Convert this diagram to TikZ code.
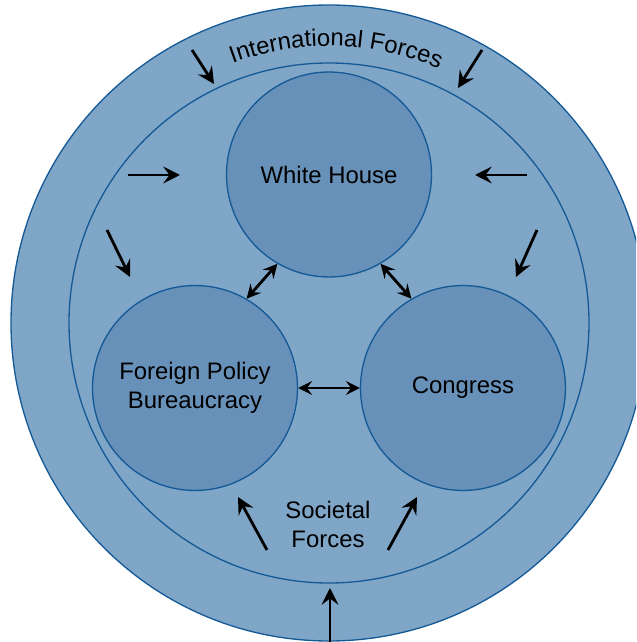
\documentclass[tikz,border=0pt]{standalone}
\usepackage{fontspec}
\setmainfont{Liberation Sans}
\usetikzlibrary{calc,arrows.meta,decorations.text,positioning}
\definecolor{ringblue}{HTML}{7FA5C7}
\definecolor{actorblue}{HTML}{6891B9}
\definecolor{edgeblue}{HTML}{145A96}
\newcommand{\labfont}{\fontsize{13.6}{16.5}\selectfont}
\tikzset{ring/.style={draw=edgeblue,fill=ringblue,line width=0.75pt},
actor/.style={circle,draw=edgeblue,fill=actorblue,line width=0.75pt,minimum size=4.1cm,inner sep=0pt,align=center,font=\labfont},
lab/.style={align=center,font=\labfont},
force/.style={-{Stealth[length=9.5pt,width=9.5pt,inset=3.5pt]},line width=1.6pt},
tie/.style={{Stealth[length=8pt,width=8pt,inset=3pt]}-{Stealth[length=8pt,width=8pt,inset=3pt]},line width=1.6pt}}

\begin{document}
\begin{tikzpicture}[x=0.02cm,y=0.02cm]

% Frame
\useasboundingbox (-329,-319) rectangle (307,323);
\clip (-329,-319) rectangle (307,323);

% Rings
\draw[ring] (0,0) circle (318);
\draw[ring] (0,0) circle (260);

% Ring labels
\path[decorate,decoration={text along path,text align=center,
  text={|\labfont|International Forces}}]
  (148.5:277) arc[start angle=148.5,end angle=28.5,radius=277];
\node[lab] (soc) at (-1,-201) {Societal\\Forces};

% Actors
\node[actor] (wh)   at (0,148.5)  {White House};
\node[actor] (fpb)  at (-134,-65) {Foreign Policy\\Bureaucracy};
\node[actor] (cong) at (134,-65)  {Congress};

% Force coordinates
\coordinate (f1s) at (-137,273); \coordinate (f1e) at (-115,239);
\coordinate (f2s) at (153,273);  \coordinate (f2e) at (129,235);
\coordinate (f3s) at (-201,148); \coordinate (f3e) at (-149,148);
\coordinate (f4s) at (198,148);  \coordinate (f4e) at (146,148);
\coordinate (f5s) at (-222,93);  \coordinate (f5e) at (-199,46);
\coordinate (f6s) at (208,93);   \coordinate (f6e) at (187,46);
\coordinate (f7s) at (-62,-227); \coordinate (f7e) at (-91,-174);
\coordinate (f8s) at (59,-227);  \coordinate (f8e) at (88,-174);
\coordinate (f9s) at (1,-319);   \coordinate (f9e) at (1,-265);

% Forces
\foreach \i in {1,...,9}
  \draw[force] (f\i s) -- (f\i e);

% Ties between actors
\draw[tie] (wh.240) -- (fpb.60);
\draw[tie] (wh.300) -- (cong.120);
\draw[tie] (fpb.0) -- (cong.180);

\end{tikzpicture}
\end{document}
